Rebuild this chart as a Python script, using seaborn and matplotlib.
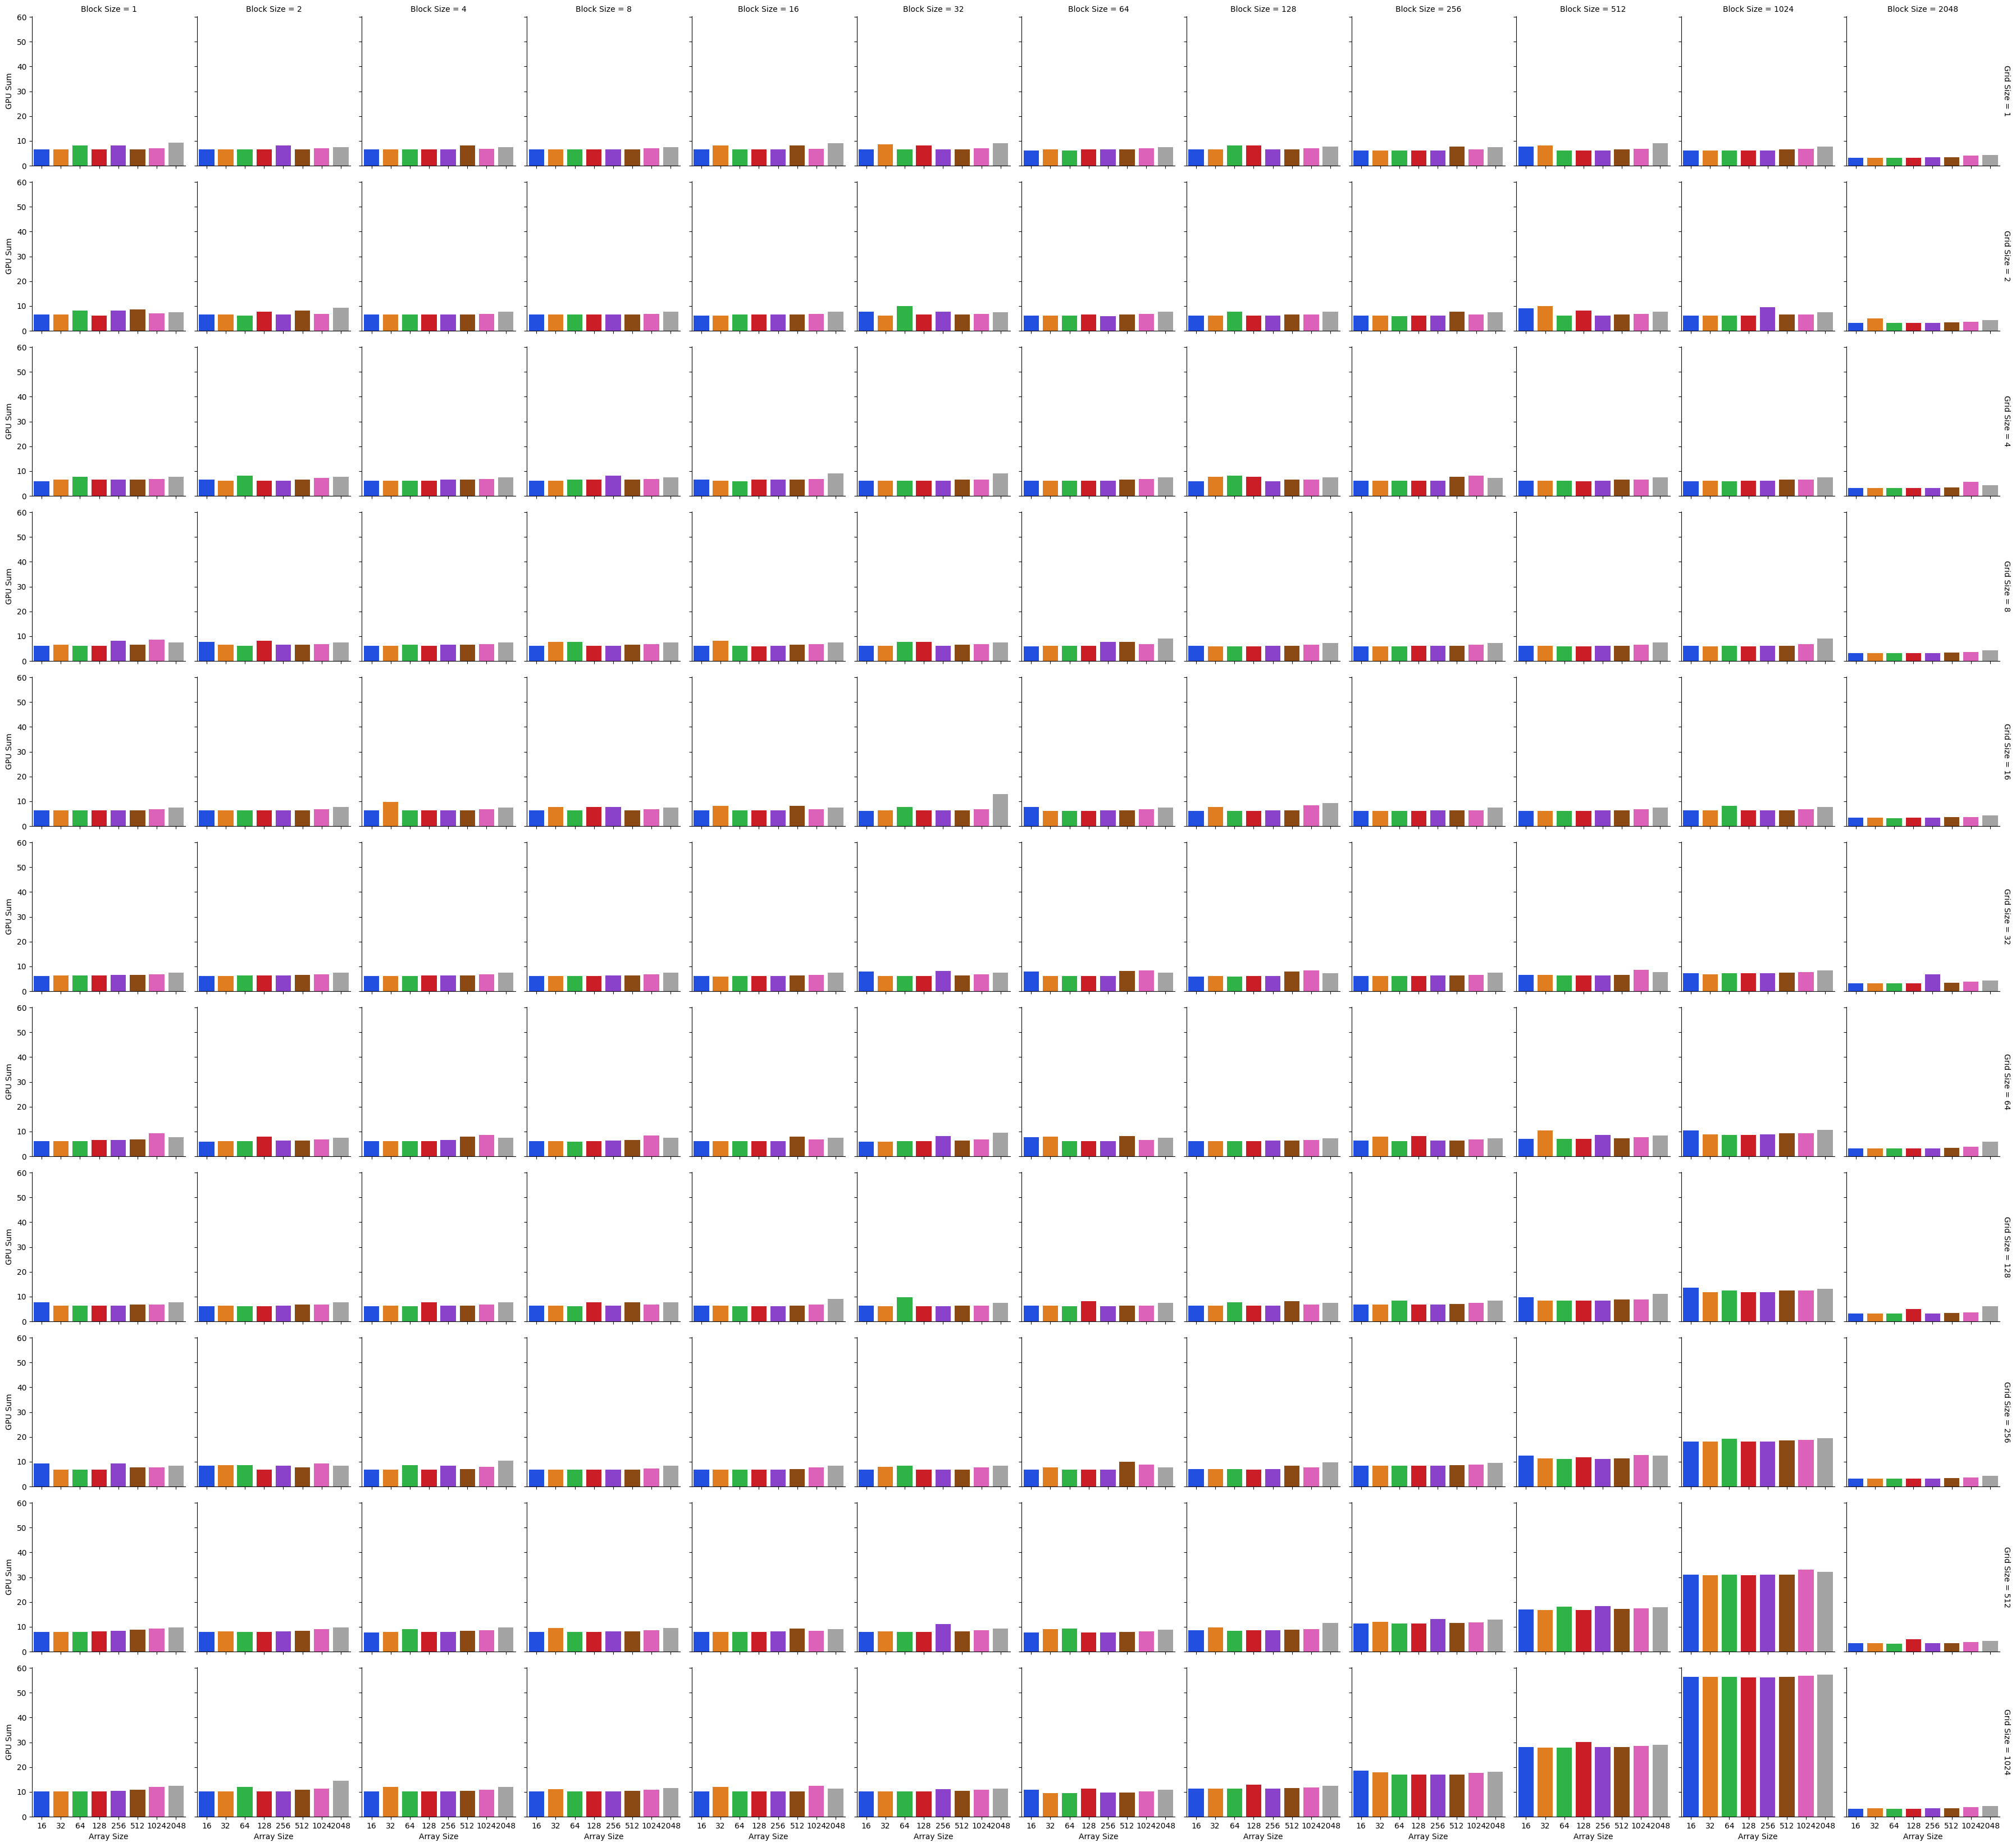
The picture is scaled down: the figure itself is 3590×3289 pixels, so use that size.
import pandas as pd
import matplotlib
matplotlib.use("Agg")
import matplotlib.pyplot as plt
import seaborn as sns

# ── Facet axes / categories ───────────────────────────────────
grid_sizes = [1, 2, 4, 8, 16, 32, 64, 128, 256, 512, 1024]
block_sizes = [1, 2, 4, 8, 16, 32, 64, 128, 256, 512, 1024, 2048]
array_sizes = ["16", "32", "64", "128", "256", "512", "1024", "2048"]

# GPU sum per grid size: one list of 8 values (array sizes) per block size
gpu_grid_1 = [
    [6.6, 6.5, 8.2, 6.5, 8.1, 6.6, 7.1, 9.4],
    [6.6, 6.5, 6.5, 6.5, 8.1, 6.6, 7.1, 7.5],
    [6.5, 6.5, 6.5, 6.5, 6.6, 8.2, 6.9, 7.5],
    [6.5, 6.5, 6.5, 6.5, 6.6, 6.6, 7.1, 7.5],
    [6.5, 8.2, 6.5, 6.5, 6.6, 8.2, 6.9, 9.1],
    [6.5, 8.5, 6.5, 8.1, 6.6, 6.6, 7.1, 9.1],
    [6.2, 6.5, 6.2, 6.5, 6.5, 6.6, 7.1, 7.5],
    [6.5, 6.5, 8.1, 8.1, 6.5, 6.5, 7.1, 7.8],
    [6.2, 6.2, 6.2, 6.2, 6.2, 7.8, 6.6, 7.4],
    [7.8, 8.1, 6.2, 6.2, 6.2, 6.5, 6.9, 9.1],
    [6.2, 6.2, 6.2, 6.2, 6.2, 6.5, 6.9, 7.8],
    [3.2, 3.2, 3.2, 3.2, 3.5, 3.5, 4.0, 4.4],
]
gpu_grid_2 = [
    [6.5, 6.5, 8.1, 6.2, 8.1, 8.5, 7.1, 7.4],
    [6.5, 6.5, 6.2, 7.8, 6.5, 8.1, 6.9, 9.4],
    [6.5, 6.5, 6.5, 6.5, 6.5, 6.6, 6.9, 7.8],
    [6.5, 6.5, 6.5, 6.5, 6.5, 6.6, 6.9, 7.6],
    [6.2, 6.2, 6.5, 6.5, 6.5, 6.6, 6.9, 7.6],
    [7.8, 6.2, 9.9, 6.5, 7.8, 6.6, 6.9, 7.4],
    [6.2, 6.2, 6.2, 6.5, 6.0, 6.5, 6.9, 7.6],
    [6.2, 6.2, 7.8, 6.2, 6.2, 6.5, 6.6, 7.6],
    [6.2, 6.2, 6.0, 6.2, 6.2, 7.8, 6.6, 7.4],
    [9.0, 9.9, 6.2, 8.1, 6.2, 6.5, 6.9, 7.6],
    [6.2, 6.2, 6.2, 6.2, 9.6, 6.5, 6.6, 7.4],
    [3.2, 5.1, 3.2, 3.2, 3.2, 3.5, 3.7, 4.4],
]
gpu_grid_4 = [
    [6.0, 6.5, 7.8, 6.5, 6.5, 6.5, 6.9, 7.6],
    [6.5, 6.2, 8.1, 6.2, 6.2, 6.6, 7.2, 7.6],
    [6.2, 6.2, 6.2, 6.2, 6.5, 6.5, 6.9, 7.4],
    [6.2, 6.2, 6.5, 6.5, 8.2, 6.5, 6.9, 7.4],
    [6.5, 6.2, 6.0, 6.5, 6.5, 6.5, 6.9, 9.0],
    [6.2, 6.2, 6.2, 6.2, 6.2, 6.5, 6.6, 9.1],
    [6.2, 6.2, 6.2, 6.2, 6.2, 6.5, 6.9, 7.4],
    [6.0, 7.8, 8.1, 7.6, 6.0, 6.5, 6.6, 7.4],
    [6.2, 6.2, 6.2, 6.2, 6.2, 7.8, 8.2, 7.2],
    [6.2, 6.2, 6.2, 6.0, 6.2, 6.5, 6.6, 7.4],
    [6.0, 6.2, 6.0, 6.2, 6.2, 6.5, 6.6, 7.4],
    [3.2, 3.2, 3.2, 3.2, 3.2, 3.5, 5.6, 4.4],
]
gpu_grid_8 = [
    [6.2, 6.5, 6.2, 6.2, 8.1, 6.5, 8.7, 7.4],
    [7.6, 6.5, 6.2, 8.1, 6.5, 6.5, 6.9, 7.4],
    [6.2, 6.2, 6.5, 6.2, 6.5, 6.5, 6.9, 7.4],
    [6.2, 7.8, 7.6, 6.2, 6.2, 6.6, 6.9, 7.4],
    [6.2, 8.1, 6.2, 6.0, 6.2, 6.5, 6.9, 7.4],
    [6.2, 6.2, 7.8, 7.6, 6.2, 6.5, 6.9, 7.4],
    [6.0, 6.2, 6.2, 6.2, 7.6, 7.8, 6.9, 9.0],
    [6.2, 6.0, 6.0, 6.0, 6.2, 6.2, 6.6, 7.2],
    [6.0, 6.0, 6.0, 6.2, 6.2, 6.2, 6.6, 7.2],
    [6.2, 6.2, 6.0, 6.0, 6.2, 6.2, 6.6, 7.4],
    [6.2, 6.0, 6.2, 6.0, 6.2, 6.2, 6.9, 9.1],
    [3.2, 3.2, 3.2, 3.2, 3.2, 3.5, 3.7, 4.4],
]
gpu_grid_16 = [
    [6.3, 6.3, 6.3, 6.4, 6.4, 6.4, 6.9, 7.5],
    [6.3, 6.3, 6.3, 6.3, 6.4, 6.4, 6.9, 7.6],
    [6.3, 9.7, 6.3, 6.4, 6.4, 6.4, 6.9, 7.5],
    [6.3, 7.8, 6.3, 7.8, 7.6, 6.4, 6.8, 7.5],
    [6.3, 8.1, 6.3, 6.3, 6.3, 8.1, 6.8, 7.5],
    [6.1, 6.3, 7.8, 6.3, 6.3, 6.3, 6.8, 12.9],
    [7.8, 6.1, 6.1, 6.1, 6.3, 6.3, 6.8, 7.5],
    [6.1, 7.6, 6.1, 6.1, 6.3, 6.3, 8.5, 9.2],
    [6.1, 6.1, 6.1, 6.1, 6.3, 6.3, 6.4, 7.5],
    [6.1, 6.1, 6.1, 6.1, 6.3, 6.4, 6.8, 7.5],
    [6.4, 6.4, 8.1, 6.4, 6.4, 6.4, 6.9, 7.6],
    [3.4, 3.4, 3.1, 3.4, 3.4, 3.6, 3.7, 4.2],
]
gpu_grid_32 = [
    [6.1, 6.3, 6.3, 6.3, 6.6, 6.6, 6.9, 7.5],
    [6.1, 6.1, 6.3, 6.3, 6.3, 6.6, 6.8, 7.5],
    [6.1, 6.1, 6.1, 6.3, 6.3, 6.3, 6.8, 7.5],
    [6.1, 6.1, 6.1, 6.1, 6.3, 6.3, 6.8, 7.5],
    [6.1, 5.9, 6.1, 6.1, 6.1, 6.3, 6.6, 7.5],
    [8.0, 6.1, 6.1, 6.1, 8.1, 6.3, 6.8, 7.5],
    [8.0, 6.1, 6.1, 6.1, 6.1, 8.1, 8.3, 7.5],
    [5.9, 6.1, 5.9, 6.1, 6.1, 8.0, 8.3, 7.3],
    [6.1, 6.1, 6.1, 6.1, 6.3, 6.3, 6.6, 7.5],
    [6.6, 6.6, 6.3, 6.3, 6.3, 6.6, 8.6, 7.6],
    [7.3, 6.9, 7.3, 7.3, 7.3, 7.5, 7.6, 8.3],
    [3.2, 3.2, 3.2, 3.2, 6.8, 3.4, 3.9, 4.2],
]
gpu_grid_64 = [
    [6.1, 6.1, 6.1, 6.6, 6.6, 6.8, 9.2, 7.8],
    [5.9, 6.1, 6.1, 8.0, 6.4, 6.4, 6.8, 7.5],
    [6.1, 6.1, 6.1, 6.1, 6.6, 8.0, 8.6, 7.5],
    [6.1, 6.1, 5.9, 6.1, 6.4, 6.6, 8.5, 7.5],
    [6.1, 6.1, 6.1, 6.1, 6.1, 8.0, 6.8, 7.5],
    [5.9, 5.9, 6.1, 6.1, 8.1, 6.4, 6.8, 9.5],
    [7.8, 8.0, 6.1, 6.1, 6.1, 8.1, 6.6, 7.5],
    [6.1, 6.1, 6.1, 6.1, 6.4, 6.4, 6.6, 7.3],
    [6.4, 8.0, 6.1, 8.1, 6.4, 6.4, 6.8, 7.3],
    [7.1, 10.5, 7.1, 7.1, 8.6, 7.3, 7.8, 8.5],
    [10.5, 8.8, 8.6, 8.6, 8.8, 9.2, 9.3, 10.7],
    [3.2, 3.2, 3.2, 3.2, 3.2, 3.4, 3.9, 5.9],
]
gpu_grid_128 = [
    [7.6, 6.3, 6.3, 6.4, 6.4, 6.8, 6.9, 7.6],
    [6.1, 6.3, 6.1, 6.1, 6.4, 6.8, 6.9, 7.6],
    [6.1, 6.3, 6.1, 7.8, 6.3, 6.4, 6.9, 7.6],
    [6.3, 6.3, 6.1, 7.6, 6.3, 7.8, 6.9, 7.6],
    [6.3, 6.3, 6.1, 6.1, 6.1, 6.3, 6.8, 9.0],
    [6.3, 6.1, 9.8, 6.1, 6.1, 6.3, 6.4, 7.5],
    [6.3, 6.3, 6.1, 8.1, 6.1, 6.4, 6.4, 7.5],
    [6.3, 6.3, 7.8, 6.3, 6.3, 8.1, 6.8, 7.5],
    [6.9, 6.9, 8.3, 6.9, 6.9, 7.1, 7.5, 8.3],
    [9.7, 8.3, 8.5, 8.3, 8.5, 8.8, 8.8, 11.2],
    [13.7, 11.7, 12.5, 11.9, 11.9, 12.4, 12.4, 13.1],
    [3.1, 3.1, 3.1, 4.9, 3.1, 3.4, 3.6, 6.1],
]
gpu_grid_256 = [
    [9.3, 6.9, 6.9, 6.7, 9.2, 7.6, 7.7, 8.5],
    [8.5, 8.7, 8.7, 6.9, 8.3, 7.6, 9.2, 8.5],
    [6.9, 6.9, 8.7, 6.9, 8.3, 7.1, 8.0, 10.5],
    [6.9, 6.9, 6.9, 6.9, 6.9, 6.9, 7.3, 8.5],
    [6.7, 6.9, 6.9, 6.9, 6.9, 7.1, 7.6, 8.3],
    [6.9, 8.0, 8.3, 6.9, 6.9, 6.9, 7.6, 8.3],
    [6.7, 7.7, 6.7, 6.7, 6.7, 10.0, 8.9, 7.7],
    [7.1, 7.1, 7.1, 6.9, 7.1, 8.5, 7.6, 9.8],
    [8.5, 8.5, 8.5, 8.5, 8.5, 8.7, 8.9, 9.6],
    [12.4, 11.4, 11.2, 11.8, 11.2, 11.4, 12.8, 12.5],
    [18.2, 18.2, 19.3, 18.2, 18.2, 18.5, 18.9, 19.5],
    [3.2, 3.2, 3.2, 3.2, 3.2, 3.5, 3.7, 4.4],
]
gpu_grid_512 = [
    [8.0, 8.0, 8.0, 8.1, 8.4, 8.9, 9.3, 9.7],
    [8.0, 8.1, 8.0, 8.0, 8.1, 8.4, 9.0, 9.7],
    [7.7, 8.0, 9.0, 8.0, 8.0, 8.4, 8.6, 9.7],
    [8.0, 9.6, 8.0, 8.0, 8.1, 8.1, 8.6, 9.6],
    [8.0, 8.0, 8.0, 8.0, 8.1, 9.3, 8.4, 9.0],
    [8.0, 8.1, 8.0, 8.0, 11.2, 8.1, 8.6, 9.3],
    [7.7, 9.0, 9.3, 7.7, 7.7, 8.0, 8.1, 8.9],
    [8.6, 9.7, 8.4, 8.6, 8.6, 8.9, 9.0, 11.6],
    [11.3, 12.0, 11.3, 11.3, 13.2, 11.6, 11.8, 12.9],
    [17.0, 16.8, 18.2, 16.8, 18.4, 17.3, 17.4, 18.0],
    [31.1, 30.9, 31.1, 30.9, 31.1, 31.1, 33.1, 32.2],
    [3.5, 3.5, 3.2, 5.1, 3.5, 3.5, 3.9, 4.3],
]
gpu_grid_1024 = [
    [10.2, 10.2, 10.1, 10.1, 10.5, 10.9, 12.1, 12.5],
    [10.2, 10.2, 12.1, 10.2, 10.2, 10.8, 11.4, 14.4],
    [10.2, 12.1, 10.2, 10.2, 10.2, 10.5, 10.9, 12.1],
    [10.2, 11.2, 10.1, 10.1, 10.2, 10.5, 10.8, 11.6],
    [10.2, 12.1, 10.2, 10.2, 10.2, 10.2, 12.5, 11.4],
    [10.2, 10.2, 10.2, 10.1, 11.2, 10.5, 10.8, 11.4],
    [10.9, 9.6, 9.6, 11.4, 9.8, 9.8, 10.2, 10.8],
    [11.4, 11.4, 11.4, 13.0, 11.4, 11.6, 11.8, 12.5],
    [18.6, 18.0, 16.9, 16.9, 17.0, 17.0, 17.6, 18.2],
    [28.2, 27.8, 27.9, 30.1, 28.2, 28.2, 28.6, 29.1],
    [56.4, 56.4, 56.4, 56.1, 56.1, 56.4, 56.8, 57.4],
    [3.2, 3.5, 3.2, 3.2, 3.5, 3.5, 3.9, 4.4],
]

gpu_by_grid = [gpu_grid_1, gpu_grid_2, gpu_grid_4, gpu_grid_8, gpu_grid_16,
               gpu_grid_32, gpu_grid_64, gpu_grid_128, gpu_grid_256,
               gpu_grid_512, gpu_grid_1024]

# ── Long-form table ───────────────────────────────────────────
rows = []
for gs, per_block in zip(grid_sizes, gpu_by_grid):
    for bs, vals in zip(block_sizes, per_block):
        for a, v in zip(array_sizes, vals):
            rows.append({"Grid Size": gs, "Block Size": bs,
                         "Array Size": a, "GPU Sum": v})
df = pd.DataFrame(rows)

# ── Plot ──────────────────────────────────────────────────────
g = sns.catplot(
    data=df, x="Array Size", y="GPU Sum", hue="Array Size",
    col="Block Size", row="Grid Size", kind="bar",
    order=array_sizes, hue_order=array_sizes, palette="bright",
    errorbar=None, legend=False, margin_titles=True,
    height=2.94, aspect=1,
)

fig = g.figure
fig.set_size_inches(35.9, 32.89)
fig.subplots_adjust(left=0.0159, right=0.9919, bottom=0.0164, top=0.9912,
                    wspace=0.075, hspace=0.105)

fig.savefig("out.png", dpi=100)
plt.close(fig)
